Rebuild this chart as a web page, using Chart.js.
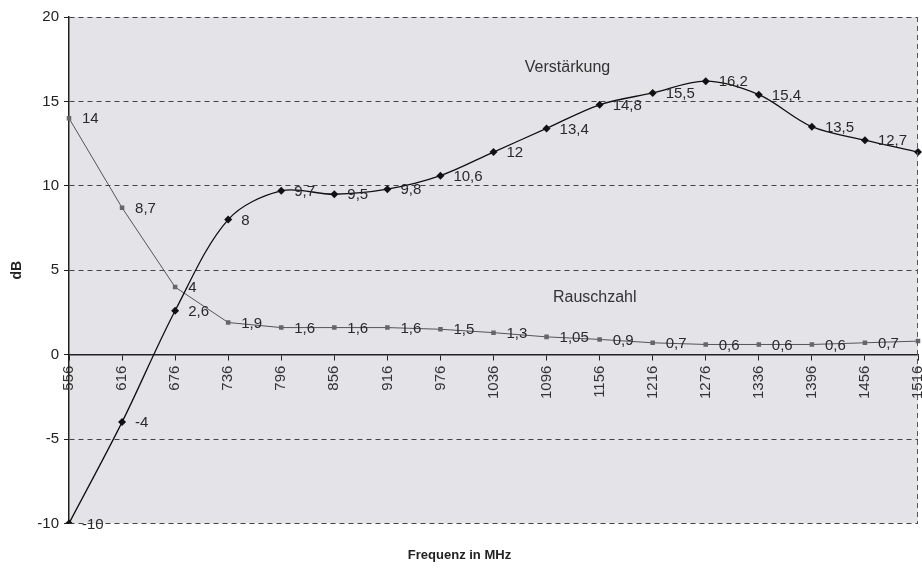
<!DOCTYPE html>
<html>
<head>
<meta charset="utf-8">
<script src="https://cdn.jsdelivr.net/npm/chart.js@4/dist/chart.umd.min.js"></script>
<style>
  body { margin: 0; background: #fff; }
  canvas { display: block; }
</style>
</head>
<body>
<canvas id="grafico" width="922" height="569"></canvas>
<script>
const frequenzen = ['556', '616', '676', '736', '796', '856', '916', '976', '1036', '1096',
                    '1156', '1216', '1276', '1336', '1396', '1456', '1516'];
const verstaerkung = [-10, -4, 2.6, 8, 9.7, 9.5, 9.8, 10.6, 12, 13.4, 14.8, 15.5, 16.2, 15.4, 13.5, 12.7, 12.0];
const rauschzahl = [14, 8.7, 4, 1.9, 1.6, 1.6, 1.6, 1.5, 1.3, 1.05, 0.9, 0.7, 0.6, 0.6, 0.6, 0.7, 0.8];

const schrift = "'Liberation Sans', Arial, sans-serif";

// Hintergrund, rechter Rand, Werte und Reihennamen
const zeichnen = {
    id: 'zeichnen',
    beforeDraw(chart) {
        const a = chart.chartArea;
        const ctx = chart.ctx;
        ctx.save();
        ctx.fillStyle = '#e4e4e8';
        ctx.fillRect(a.left, a.top, a.right - a.left, a.bottom - a.top);
        ctx.restore();
    },
    afterDraw(chart) {
        const a = chart.chartArea;
        const ctx = chart.ctx;
        ctx.save();
        ctx.strokeStyle = '#555';
        ctx.lineWidth = 1;
        ctx.setLineDash([5, 4]);
        ctx.beginPath();
        ctx.moveTo(a.right - 0.5, a.top);
        ctx.lineTo(a.right - 0.5, a.bottom);
        ctx.stroke();
        ctx.setLineDash([]);

        ctx.font = '15px ' + schrift;
        ctx.fillStyle = '#2a2a2a';
        ctx.textBaseline = 'middle';
        ctx.textAlign = 'left';
        chart.data.datasets.forEach((ds, i) => {
            const meta = chart.getDatasetMeta(i);
            meta.data.forEach((pt, j) => {
                if (j === ds.data.length - 1) return;
                const txt = String(ds.data[j]).replace('.', ',');
                ctx.fillText(txt, pt.x + 13, pt.y + 1);
            });
        });

        const xs = chart.scales.x, ys = chart.scales.y;
        ctx.font = '16px ' + schrift;
        ctx.fillStyle = '#333';
        ctx.fillText('Verstärkung', xs.getPixelForValue(8.59), ys.getPixelForValue(17.0));
        ctx.fillText('Rauschzahl', xs.getPixelForValue(9.12), ys.getPixelForValue(3.4));
        ctx.restore();
    }
};

const ctx = document.getElementById('grafico').getContext('2d');
new Chart(ctx, {
    type: 'line',
    data: {
        labels: frequenzen,
        datasets: [{
            label: 'Verstärkung',
            data: verstaerkung,
            borderColor: '#111',
            borderWidth: 1.3,
            tension: 0.33,
            pointStyle: 'rectRot',
            pointRadius: 4,
            pointBackgroundColor: '#111',
            pointBorderColor: '#111',
            pointBorderWidth: 0
        }, {
            label: 'Rauschzahl',
            data: rauschzahl,
            borderColor: '#555',
            borderWidth: 1,
            tension: 0,
            pointStyle: 'rect',
            pointRadius: 3.2,
            pointBackgroundColor: '#666',
            pointBorderColor: '#666',
            pointBorderWidth: 0
        }]
    },
    options: {
        responsive: false,
        animation: false,
        devicePixelRatio: 1,
        layout: { padding: { top: 17, right: 3, left: 0, bottom: 0 } },
        plugins: {
            legend: { display: false },
            tooltip: { enabled: false },
            title: {
                display: true,
                position: 'bottom',
                text: 'Frequenz in MHz',
                color: '#222',
                font: { family: schrift, size: 13, weight: 'bold' },
                padding: { top: 24, bottom: 6 }
            }
        },
        scales: {
            x: {
                position: { y: 0 },
                offset: false,
                afterFit(s) { s.paddingLeft = 0; s.paddingRight = 0; },
                grid: { drawOnChartArea: false, tickLength: 5, color: '#222' },
                border: { color: '#222', width: 1.5 },
                ticks: {
                    autoSkip: false,
                    minRotation: 90,
                    maxRotation: 90,
                    padding: 6,
                    color: '#333',
                    font: { family: schrift, size: 15 }
                }
            },
            y: {
                min: -10,
                max: 20,
                afterFit(s) { s.width = 69; },
                ticks: {
                    stepSize: 5,
                    padding: 5,
                    color: '#222',
                    font: { family: schrift, size: 15 }
                },
                grid: { color: '#444', lineWidth: 1, tickLength: 5, tickColor: '#222' },
                border: { color: '#222', width: 1.5, dash: [5, 4] },
                title: {
                    display: true,
                    text: 'dB',
                    color: '#222',
                    font: { family: schrift, size: 14, weight: 'bold' },
                    padding: { top: 9, bottom: 0 }
                }
            }
        }
    },
    plugins: [zeichnen]
});
</script>
</body>
</html>
